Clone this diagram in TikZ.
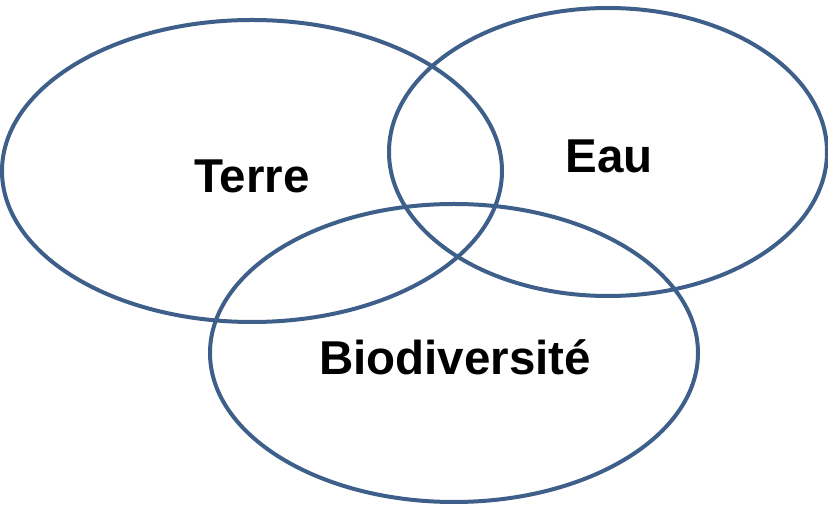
\documentclass[tikz,border=0pt]{standalone}
\usepackage{fontspec}
\setmainfont{Liberation Sans}
\definecolor{ringblue}{HTML}{3E5F8A}
\begin{document}
\begin{tikzpicture}[x=1pt,y=1pt,
  ring/.style={draw=ringblue,line width=4pt},
  lbl/.style={font=\fontsize{47.5}{52}\selectfont\bfseries,inner sep=0pt}]
\useasboundingbox (0,0) rectangle (828,506);
\draw[ring] (252,335) ellipse [x radius=250,y radius=151];
\draw[ring] (608,354) ellipse [x radius=219,y radius=144];
\draw[ring] (454,153) ellipse [x radius=244,y radius=149];
\node[lbl] (terre) at (252,330) {Terre};
\node[lbl] (eau) at (609,350) {Eau};
\node[lbl] (bio) at (455,149) {Biodiversité};
\end{tikzpicture}
\end{document}
